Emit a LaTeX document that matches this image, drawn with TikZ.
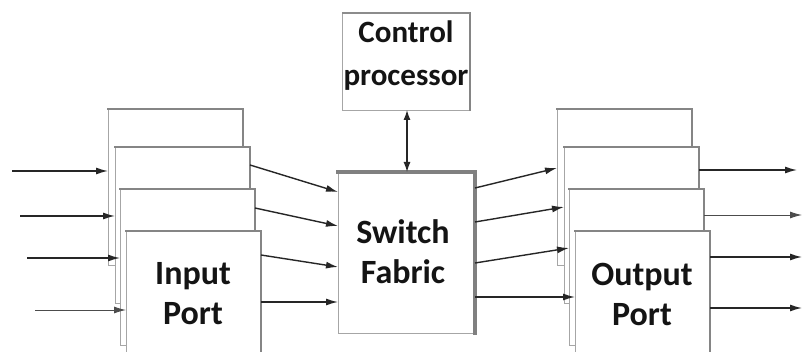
\documentclass[tikz,border=0pt]{standalone}
\usepackage{fontspec}
\setmainfont{Carlito}
\usetikzlibrary{arrows.meta}
\tikzset{
  portbox/.style={draw=black!35, line width=0.9pt, fill=white, minimum width=135pt, minimum height=156pt, inner sep=0pt, outer sep=0pt, anchor=north west},
  edgeshade/.style={draw=black!48, line width=2.8pt, line cap=rect},
  bigshade/.style={draw=black!50, line width=4.5pt, line cap=rect},
  lbl/.style={font=\bfseries\fontsize{34}{40}\selectfont, align=center, inner sep=0pt, text=black!92},
  conn/.style={draw=black!85, line width=1.4pt, -{Latex[length=12pt,width=7pt]}},
  thinconn/.style={draw=black!70, line width=0.9pt, -{Latex[length=12pt,width=7pt]}},
}
\begin{document}
\begin{tikzpicture}[x=1pt,y=-1pt]
\useasboundingbox[fill=white] (0,0) rectangle (802,352);

% input ports
\node[portbox] (i1) at (108,109) {};
\draw[edgeshade] (i1.north west) -- (i1.north east) -- (i1.south east);
\node[portbox] (i2) at (115,147) {};
\draw[edgeshade] (i2.north west) -- (i2.north east) -- (i2.south east);
\node[portbox] (i3) at (120,189) {};
\draw[edgeshade] (i3.north west) -- (i3.north east) -- (i3.south east);
\node[portbox] (i4) at (126,231) {};
\draw[edgeshade] (i4.north west) -- (i4.north east) -- (i4.south east);
\node[lbl] (itxt) at (193,294) {Input\\Port};

% output ports
\node[portbox] (o1) at (557,109) {};
\draw[edgeshade] (o1.north west) -- (o1.north east) -- (o1.south east);
\node[portbox] (o2) at (564,147) {};
\draw[edgeshade] (o2.north west) -- (o2.north east) -- (o2.south east);
\node[portbox] (o3) at (569,189) {};
\draw[edgeshade] (o3.north west) -- (o3.north east) -- (o3.south east);
\node[portbox] (o4) at (575,231) {};
\draw[edgeshade] (o4.north west) -- (o4.north east) -- (o4.south east);
\node[lbl] (otxt) at (642,294) {Output\\Port};

% switch fabric
\node[portbox, minimum width=137pt, minimum height=161pt] (sw) at (338,172) {};
\draw[bigshade] (sw.north west) -- (sw.north east) -- (sw.south east);
\node[lbl] (swtxt) at (403,252) {Switch\\Fabric};

% control processor
\node[portbox, minimum width=128pt, minimum height=97pt] (cp) at (342,13) {};
\draw[edgeshade] (cp.north east) -- (cp.south east);
\draw[draw=black!45, line width=1.5pt] (cp.north west) -- (cp.north east);
\node[lbl, font=\bfseries\fontsize{31}{43}\selectfont] (cptxt) at (406,56) {Control\\processor};

% control link
\draw[draw=black!85, line width=1.3pt, {Latex[length=10pt,width=7pt]}-{Latex[length=10pt,width=7pt]}] (cp.south -| 407,0) -- (sw.north -| 407,0);

% input arrows
\coordinate (a1) at (12,171);
\coordinate (a2) at (20,216);
\coordinate (a3) at (27,258);
\coordinate (a4) at (35,310);
\draw[conn] (a1) -- (a1 -| i1.west);
\draw[conn] (a2) -- (a2 -| i2.west);
\draw[conn] (a3) -- (a3 -| i3.west);
\draw[thinconn] (a4) -- (a4 -| i4.west);

% input ports to switch
\draw[conn] (i2.east |- 0,165) -- (sw.west |- 0,192);
\draw[conn] (i3.east |- 0,208) -- (sw.west |- 0,226);
\draw[conn] (i4.east |- 0,255) -- (sw.west |- 0,267);
\draw[conn] (i4.east |- 0,302) -- (sw.west |- 0,302);

% switch to output ports
\draw[conn] (sw.east |- 0,188) -- (o1.west |- 0,168);
\draw[conn] (sw.east |- 0,222) -- (o2.west |- 0,207);
\draw[conn] (sw.east |- 0,263) -- (o3.west |- 0,248);
\draw[conn] (sw.east |- 0,297) -- (o4.west |- 0,297);

% output arrows
\coordinate (b1) at (797,170);
\coordinate (b2) at (802,215);
\coordinate (b3) at (802,257);
\coordinate (b4) at (802,308);
\draw[conn] (o2.east |- b1) -- (b1);
\draw[thinconn] (o3.east |- b2) -- (b2);
\draw[conn] (o4.east |- b3) -- (b3);
\draw[conn] (o4.east |- b4) -- (b4);
\end{tikzpicture}
\end{document}
